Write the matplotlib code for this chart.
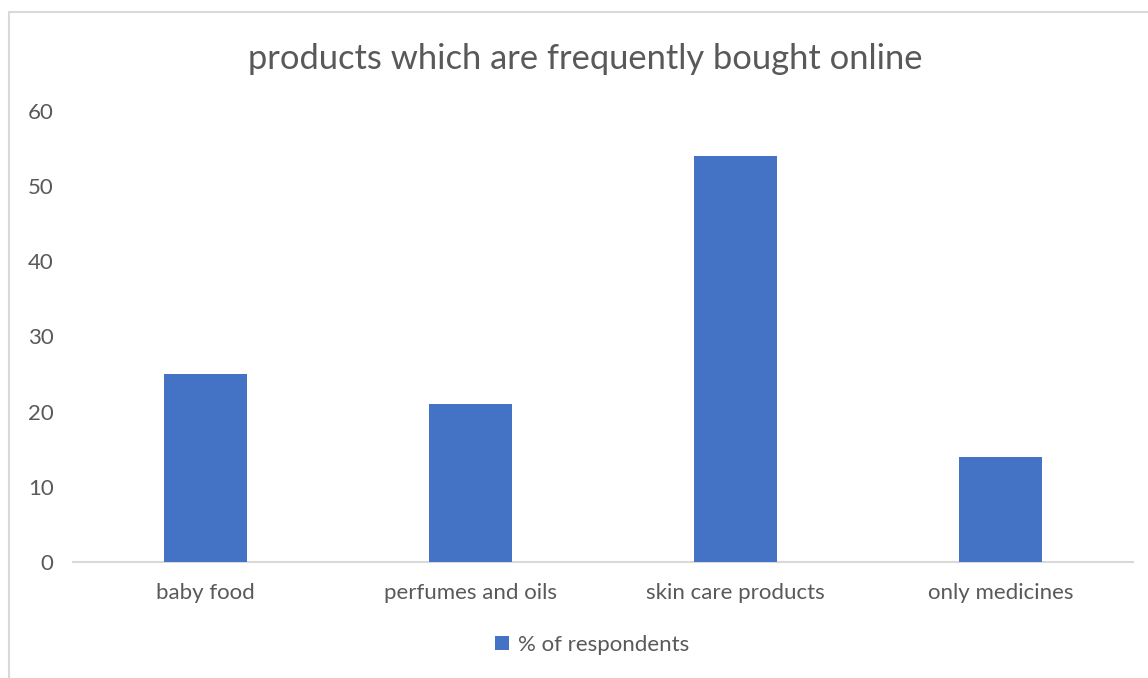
import matplotlib.pyplot as plt
from matplotlib.patches import Rectangle

# survey results
categories = ['baby food', 'perfumes and oils', 'skin care products', 'only medicines']
respondents = [25, 21, 54, 14]
series_name = '% of respondents'
yticks = [0, 10, 20, 30, 40, 50, 60]

bar_color = '#4472C4'
text_color = '#595959'
line_color = '#D9D9D9'

plt.rcParams['font.family'] = ['Lato', 'DejaVu Sans']

fig = plt.figure(figsize=(11.48, 6.78), dpi=100)
ax = fig.add_axes([0.0636, 0.1711, 0.9234, 0.6652])

x = range(len(categories))
bars = ax.bar(x, respondents, width=0.31, color=bar_color, label=series_name, zorder=3)

ax.set_xlim(-0.5, len(categories) - 0.5)
ax.set_ylim(0, 60)
ax.set_yticks(yticks)
ax.set_xticks(list(x))
ax.set_xticklabels(categories)

for side in ['top', 'right', 'left']:
    ax.spines[side].set_visible(False)
ax.spines['bottom'].set_color(line_color)
ax.spines['bottom'].set_linewidth(1.5)
ax.tick_params(axis='both', length=0, colors=text_color, labelsize=16)
ax.tick_params(axis='y', pad=14)
ax.tick_params(axis='x', pad=15)

fig.text(0.5096, 0.913, 'products which are frequently bought online',
         ha='center', va='center', fontsize=24.8, color=text_color)

leg = fig.legend(handles=[bars], labels=[series_name], loc='center',
                 bbox_to_anchor=(0.5157, 0.0487), frameon=False,
                 fontsize=16, handlelength=0.6, handleheight=0.6,
                 handletextpad=0.4, borderpad=0)
for t in leg.get_texts():
    t.set_color(text_color)

# chart frame, running off the right and bottom edges
fig.patches.append(Rectangle((9 / 1148, -0.05), 1.2, 1 - 12 / 678 + 0.05,
                             transform=fig.transFigure, fill=False,
                             edgecolor=line_color, linewidth=1.5))

fig.savefig('out.png', dpi=100, facecolor='white')
